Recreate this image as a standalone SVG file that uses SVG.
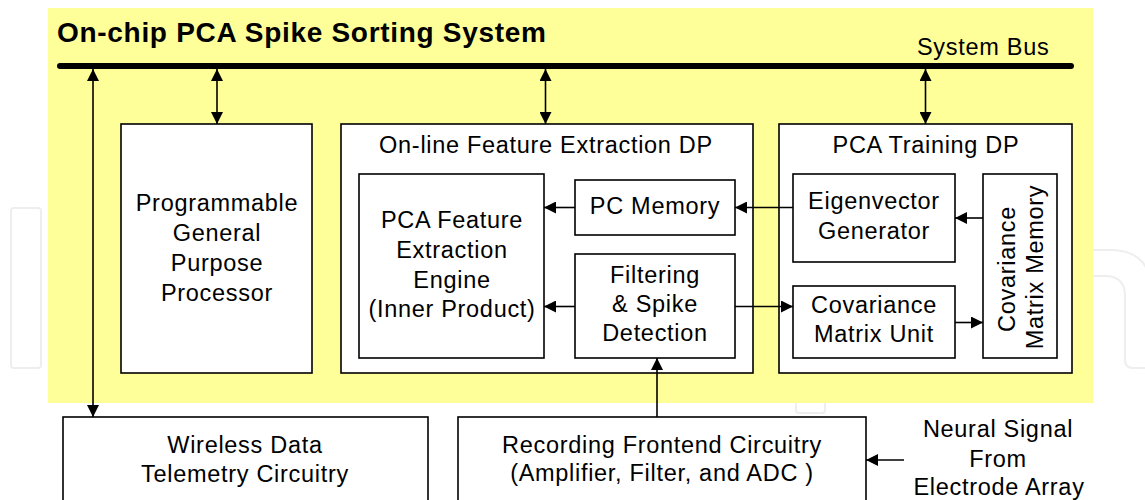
<svg xmlns="http://www.w3.org/2000/svg" width="1145" height="500" viewBox="0 0 1145 500">
<style>
.box{fill:#ffffff;stroke:#000000;stroke-width:1.6}
.t{font-family:"Liberation Sans",Arial,sans-serif;font-size:23.5px;letter-spacing:0.7px;fill:#000000;text-anchor:middle}
.title{font-family:"Liberation Sans",Arial,sans-serif;font-size:28px;font-weight:bold;letter-spacing:0.7px;fill:#000000}
.wm{fill:none;stroke:#eeeeee;stroke-width:2}
.c{stroke:#000000;stroke-width:1.6;fill:none}
</style>
<defs>
<marker id="ah" markerUnits="userSpaceOnUse" markerWidth="12" markerHeight="12" refX="12" refY="6" orient="auto-start-reverse">
<path d="M0,0 L12,6 L0,12 z" fill="#000000"/>
</marker>
</defs>
<rect width="1145" height="500" fill="#ffffff"/>
<g id="watermark">
<rect class="wm" x="11" y="208" width="30" height="160" rx="3"/>
<path class="wm" d="M1093,276 L1105,276 Q1125,276 1125,296 L1125,360 Q1125,368 1133,368 L1145,368"/>
<path class="wm" d="M1093,250 L1110,250 Q1140,250 1148,272"/>
<rect class="wm" x="796" y="395" width="29" height="18" rx="3"/>
</g>
<g id="system">
<rect x="48" y="8" width="1045" height="395" fill="#ffff99"/>
<text class="title" x="57" y="42">On-chip PCA Spike Sorting System</text>
</g>
<g id="bus">
<line x1="60" y1="66" x2="1071" y2="66" stroke="#000000" stroke-width="6" stroke-linecap="round"/>
<text class="t" x="917" y="55" style="text-anchor:start">System Bus</text>
</g>
<g id="processor">
<rect class="box" x="121" y="124" width="191" height="249"/>
<text class="t" x="217" y="211">Programmable</text>
<text class="t" x="217" y="241">General</text>
<text class="t" x="217" y="271">Purpose</text>
<text class="t" x="217" y="301">Processor</text>
</g>
<g id="feature-dp">
<rect class="box" x="341" y="124" width="412" height="249"/>
<text class="t" x="546" y="153">On-line Feature Extraction DP</text>
</g>
<g id="pca-engine">
<rect class="box" x="359" y="174" width="185" height="184"/>
<text class="t" x="452" y="228">PCA Feature</text>
<text class="t" x="452" y="258">Extraction</text>
<text class="t" x="452" y="288">Engine</text>
<text class="t" x="452" y="317">(Inner Product)</text>
</g>
<g id="pc-memory">
<rect class="box" x="575" y="180" width="160" height="55"/>
<text class="t" x="655" y="214">PC Memory</text>
</g>
<g id="filtering">
<rect class="box" x="575" y="254" width="160" height="104"/>
<text class="t" x="655" y="283">Filtering</text>
<text class="t" x="655" y="312">&amp; Spike</text>
<text class="t" x="655" y="341">Detection</text>
</g>
<g id="training-dp">
<rect class="box" x="779" y="124" width="293" height="249"/>
<text class="t" x="926" y="153">PCA Training DP</text>
</g>
<g id="eigen">
<rect class="box" x="793" y="174" width="162" height="88"/>
<text class="t" x="874" y="209">Eigenvector</text>
<text class="t" x="874" y="239">Generator</text>
</g>
<g id="cov-unit">
<rect class="box" x="793" y="286" width="162" height="72"/>
<text class="t" x="874" y="313">Covariance</text>
<text class="t" x="874" y="342">Matrix Unit</text>
</g>
<g id="cov-memory">
<rect class="box" x="983" y="174" width="74" height="184"/>
<text class="t" transform="translate(1015,269) rotate(-90)" x="0" y="0">Covariance</text>
<text class="t" transform="translate(1043,267) rotate(-90)" x="0" y="0">Matrix Memory</text>
</g>
<g id="wireless">
<rect class="box" x="63" y="417" width="365" height="100"/>
<text class="t" x="245" y="453">Wireless Data</text>
<text class="t" x="245" y="482">Telemetry Circuitry</text>
</g>
<g id="frontend">
<rect class="box" x="458" y="417" width="408" height="100"/>
<text class="t" x="662" y="453">Recording Frontend Circuitry</text>
<text class="t" x="662" y="481">(Amplifier, Filter, and ADC )</text>
</g>
<g id="neural-signal">
<text class="t" x="998" y="437">Neural Signal</text>
<text class="t" x="998" y="467">From</text>
<text class="t" x="999" y="495">Electrode Array</text>
</g>
<g id="connectors">
<line class="c" x1="93" y1="69" x2="93" y2="417" marker-start="url(#ah)" marker-end="url(#ah)"/>
<line class="c" x1="217" y1="69" x2="217" y2="124" marker-start="url(#ah)" marker-end="url(#ah)"/>
<line class="c" x1="545.5" y1="69" x2="545.5" y2="124" marker-start="url(#ah)" marker-end="url(#ah)"/>
<line class="c" x1="925.5" y1="69" x2="925.5" y2="124" marker-start="url(#ah)" marker-end="url(#ah)"/>
<line class="c" x1="575" y1="207.5" x2="544" y2="207.5" marker-end="url(#ah)"/>
<line class="c" x1="575" y1="306.5" x2="544" y2="306.5" marker-end="url(#ah)"/>
<line class="c" x1="735" y1="306.5" x2="793" y2="306.5" marker-end="url(#ah)"/>
<line class="c" x1="793" y1="207.5" x2="735" y2="207.5" marker-end="url(#ah)"/>
<line class="c" x1="983" y1="218" x2="955" y2="218" marker-end="url(#ah)"/>
<line class="c" x1="955" y1="322.5" x2="983" y2="322.5" marker-end="url(#ah)"/>
<line class="c" x1="657" y1="417" x2="657" y2="358" marker-end="url(#ah)"/>
<line class="c" x1="904" y1="460" x2="866" y2="460" marker-end="url(#ah)"/>
</g>
</svg>
